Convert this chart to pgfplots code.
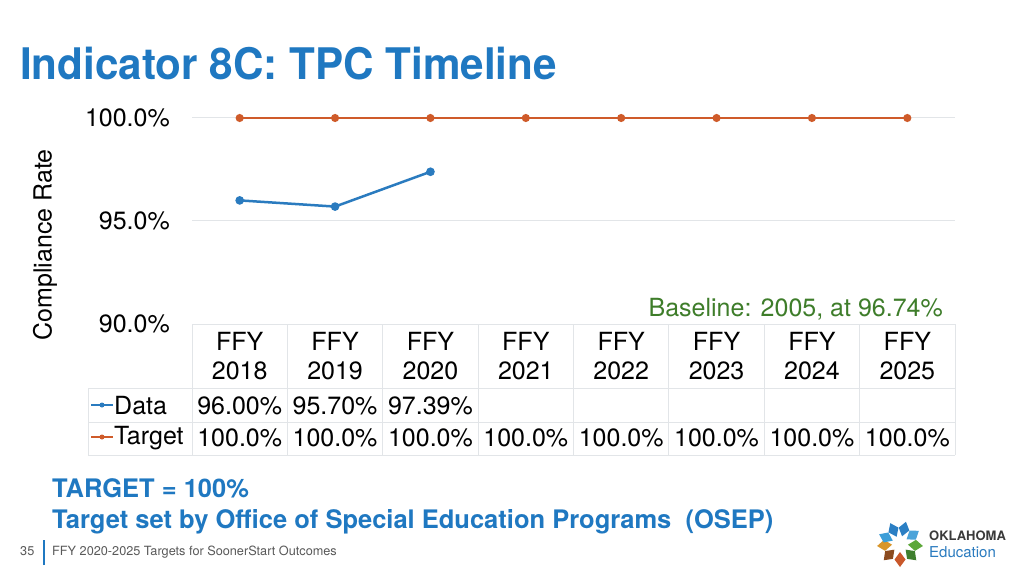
\documentclass[border=0pt]{standalone}
\usepackage{fontspec}
\setmainfont{TeX Gyre Heros}
\usepackage{pgfplots}
\pgfplotsset{compat=1.18}

\definecolor{titleblue}{HTML}{1F78C1}
\definecolor{datablue}{HTML}{2A7BBF}
\definecolor{targetorange}{HTML}{CF5B2A}
\definecolor{basegreen}{HTML}{3E7D2A}
\definecolor{gridgray}{HTML}{E2E5E8}
\definecolor{footgray}{HTML}{595959}
\definecolor{logogray}{HTML}{3A3A3A}

\newcommand{\bigtxt}{\fontsize{25}{30}\selectfont}

\begin{document}
\begin{tikzpicture}[x=1pt,y=1pt]
\fill[white] (0,0) rectangle (1024,576);

% title
\node[anchor=base west, inner sep=0, text=titleblue, xscale=0.97,
      font=\fontsize{43.5}{50}\selectfont\bfseries] at (20,496) {Indicator 8C: TPC Timeline};

\begin{axis}[
    at={(192pt,252pt)}, anchor=south west,
    scale only axis, width=763pt, height=206pt,
    xmin=-0.5, xmax=7.5, ymin=90, ymax=100,
    axis line style={draw=none},
    major tick length=0,
    xtick=\empty,
    ytick={90,95,100},
    yticklabels={90.0\%,95.0\%,100.0\%},
    yticklabel style={font=\bigtxt, anchor=east, inner sep=0pt, xshift=-22pt},
    ymajorgrids,
    grid style={gridgray, line width=1pt},
    clip=false,
]
% Data
\addplot[datablue, line width=2.5pt, mark=*, mark size=3pt] coordinates {
    (0,96.00) (1,95.70) (2,97.39)
};
% Target
\addplot[targetorange, line width=2pt, mark=*, mark size=3pt] coordinates {
    (0,100) (1,100) (2,100) (3,100) (4,100) (5,100) (6,100) (7,100)
};
\end{axis}

% y label
\node[rotate=90, font=\bigtxt] at (45,331) {Compliance Rate};

% baseline note
\node[anchor=base east, inner sep=0, text=basegreen, font=\bigtxt] at (943,259) {Baseline: 2005, at 96.74\%};

% data table
\draw[gridgray, line width=1pt] (192,252) -- (955,252);
\draw[gridgray, line width=1pt] (88,188) -- (955,188);
\draw[gridgray, line width=1pt] (88,154) -- (955,154);
\draw[gridgray, line width=1pt] (88,121) -- (955,121);
\draw[gridgray, line width=1pt] (88,121) -- (88,188);
\foreach \k in {0,...,8} {
  \draw[gridgray, line width=1pt] (192+\k*95.375,121) -- (192+\k*95.375,252);
}
\foreach \k/\yr/\d in {0/2018/96.00\%,1/2019/95.70\%,2/2020/97.39\%,3/2021/,4/2022/,5/2023/,6/2024/,7/2025/} {
  \node[font=\bigtxt] at (239.7+\k*95.375,235) {FFY};
  \node[font=\bigtxt] at (239.7+\k*95.375,205) {\yr};
  \node[font=\bigtxt] at (239.7+\k*95.375,170) {\d};
  \node[font=\bigtxt] at (239.7+\k*95.375,138) {100.0\%};
}
% legend keys
\draw[datablue, line width=2pt] (91,171) -- (113,171);
\fill[datablue] (102,171) circle (2.5);
\node[anchor=west, inner sep=0, font=\bigtxt] at (114,170) {Data};
\draw[targetorange, line width=2pt] (91,139) -- (113,139);
\fill[targetorange] (102,139) circle (2.5);
\node[anchor=west, inner sep=0, font=\bigtxt] at (114,138) {Target};

% notes under the chart
\node[anchor=base west, inner sep=0, text=titleblue, font=\fontsize{25.5}{30}\selectfont\bfseries] at (52,79) {TARGET = 100\%};
\node[anchor=base west, inner sep=0, text=titleblue, font=\fontsize{25.5}{30}\selectfont\bfseries] at (52,48) {Target set by Office of Special Education Programs~~(OSEP)};

% footer
\node[anchor=base west, inner sep=0, text=footgray, font=\fontsize{12.7}{15}\selectfont] at (20,21) {35};
\draw[titleblue, line width=1.5pt] (44,11) -- (44,36);
\node[anchor=base west, inner sep=0, text=footgray, font=\fontsize{12.7}{15}\selectfont] at (52,21) {FFY 2020-2025 Targets for SoonerStart Outcomes};

% logo
\begin{scope}[shift={(900,32)}]
\foreach \a/\c in {75/2B7FC4,115/2B7FC4,35/4BA3D9,-5/5DA83A,-45/3F7F2E,-90/C9582A,-135/8B4A1E,-175/D9962A,155/3C9ED8} {
  \definecolor{tmp}{HTML}{\c}
  \fill[tmp, rotate=\a] (8,0) -- (15.5,-5.5) -- (23,0) -- (15.5,5.5) -- cycle;
}
\end{scope}
\node[anchor=base west, inner sep=0, text=logogray, font=\fontsize{13}{15}\selectfont\bfseries] at (929,36) {OKLAHOMA};
\node[anchor=base west, inner sep=0, text=datablue, font=\fontsize{15}{17}\selectfont] at (929,19) {Education};
\end{tikzpicture}
\end{document}
